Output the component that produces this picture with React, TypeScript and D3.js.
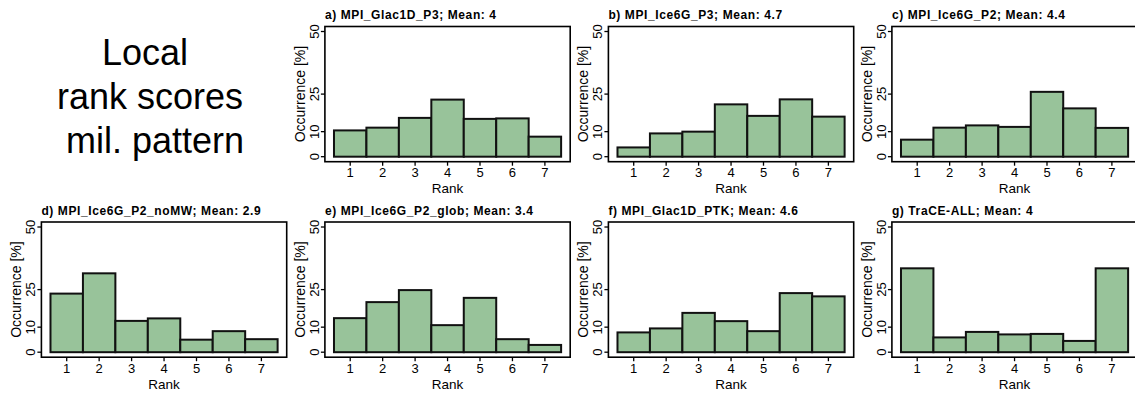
import React, { useEffect, useRef } from "react";
import * as d3 from "d3";

// rank categories on the x axis
const ranks = [1, 2, 3, 4, 5, 6, 7];
const yTicks = [0, 10, 25, 50];

const titles = [
  "a) MPI_Glac1D_P3; Mean: 4",
  "b) MPI_Ice6G_P3; Mean: 4.7",
  "c) MPI_Ice6G_P2; Mean: 4.4",
  "d) MPI_Ice6G_P2_noMW; Mean: 2.9",
  "e) MPI_Ice6G_P2_glob; Mean: 3.4",
  "f) MPI_Glac1D_PTK; Mean: 4.6",
  "g) TraCE-ALL; Mean: 4",
];

// occurrence [%] per rank
const valuesA = [10.5, 11.6, 15.5, 22.8, 15.1, 15.3, 8.0];
const valuesB = [3.7, 9.3, 10.0, 20.9, 16.3, 22.9, 16.0];
const valuesC = [6.8, 11.6, 12.5, 11.9, 25.9, 19.3, 11.5];
const valuesD = [23.4, 31.5, 12.5, 13.5, 5.0, 8.4, 5.2];
const valuesE = [13.6, 20.0, 24.8, 10.8, 21.7, 5.2, 2.9];
const valuesF = [7.9, 9.5, 15.7, 12.4, 8.4, 23.6, 22.3];
const valuesG = [33.5, 5.9, 8.1, 7.1, 7.3, 4.5, 33.5];

const sideText = ["Local ", "rank scores", " mil. pattern"];

const W = 1135;
const H = 394;

export default function App() {
  const ref = useRef<SVGSVGElement | null>(null);

  useEffect(() => {
    const svg = d3.select(ref.current);
    svg.selectAll("*").remove();

    const font = "'Liberation Sans', Arial, Helvetica, sans-serif";
    const panels = [
      { title: titles[0], values: valuesA, col: 1, row: 0 },
      { title: titles[1], values: valuesB, col: 2, row: 0 },
      { title: titles[2], values: valuesC, col: 3, row: 0 },
      { title: titles[3], values: valuesD, col: 0, row: 1 },
      { title: titles[4], values: valuesE, col: 1, row: 1 },
      { title: titles[5], values: valuesF, col: 2, row: 1 },
      { title: titles[6], values: valuesG, col: 3, row: 1 },
    ];

    // big label in the empty first cell
    svg
      .append("g")
      .selectAll("text")
      .data(sideText)
      .enter()
      .append("text")
      .attr("x", 150)
      .attr("y", (d, i) => 65 + i * 44)
      .attr("text-anchor", "middle")
      .style("white-space", "pre")
      .style("font-family", font)
      .style("font-size", "36px")
      .style("fill", "#000")
      .text((d) => d);

    const boxW = 245.3;
    const boxH = 135.2;

    panels.forEach((p) => {
      const left = 41.4 + 283.5 * p.col;
      const top = 26.5 + 195.5 * p.row;
      const bottom = top + boxH;

      const x = d3.scaleLinear().domain([-0.28, 7.28]).range([left, left + boxW]);
      const y = d3.scaleLinear().domain([-2, 52]).range([bottom, top]);

      const g = svg.append("g");

      // bars
      g.selectAll("rect")
        .data(p.values)
        .enter()
        .append("rect")
        .attr("x", (d, i) => x(i))
        .attr("width", x(1) - x(0))
        .attr("y", (d) => y(d))
        .attr("height", (d) => y(0) - y(d))
        .attr("fill", "#98c39a")
        .attr("stroke", "#111")
        .attr("stroke-width", 2);

      // frame
      g.append("rect")
        .attr("x", left)
        .attr("y", top)
        .attr("width", boxW)
        .attr("height", boxH)
        .attr("fill", "none")
        .attr("stroke", "#000")
        .attr("stroke-width", 1.6);

      // y axis ticks + labels
      yTicks.forEach((t) => {
        g.append("line")
          .attr("x1", left - 4)
          .attr("x2", left)
          .attr("y1", y(t))
          .attr("y2", y(t))
          .attr("stroke", "#000")
          .attr("stroke-width", 1.3);
        g.append("text")
          .attr("transform", `translate(${left - 6},${y(t)}) rotate(-90)`)
          .attr("text-anchor", "middle")
          .style("font-family", font)
          .style("font-size", "13px")
          .text(t);
      });

      // x axis ticks + labels
      ranks.forEach((r, i) => {
        const cx = x(i + 0.5);
        g.append("line")
          .attr("x1", cx)
          .attr("x2", cx)
          .attr("y1", bottom)
          .attr("y2", bottom + 4)
          .attr("stroke", "#000")
          .attr("stroke-width", 1.3);
        g.append("text")
          .attr("x", cx)
          .attr("y", bottom + 15.5)
          .attr("text-anchor", "middle")
          .style("font-family", font)
          .style("font-size", "13px")
          .text(r);
      });

      g.append("text")
        .attr("x", (left + left + boxW) / 2)
        .attr("y", bottom + 31.5)
        .attr("text-anchor", "middle")
        .style("font-family", font)
        .style("font-size", "13.5px")
        .text("Rank");

      g.append("text")
        .attr("transform", `translate(${left - 20},${(top + bottom) / 2}) rotate(-90)`)
        .attr("text-anchor", "middle")
        .style("font-family", font)
        .style("font-size", "14px")
        .text("Occurrence [%]");

      g.append("text")
        .attr("x", left)
        .attr("y", top - 7.5)
        .style("font-family", font)
        .style("font-size", "12px")
        .style("font-weight", "bold")
        .style("letter-spacing", "0.6px")
        .text(p.title);
    });
  }, []);

  return (
    <svg
      ref={ref}
      width={W}
      height={H}
      style={{ position: "absolute", left: 0, top: 0, background: "#fff" }}
    />
  );
}
